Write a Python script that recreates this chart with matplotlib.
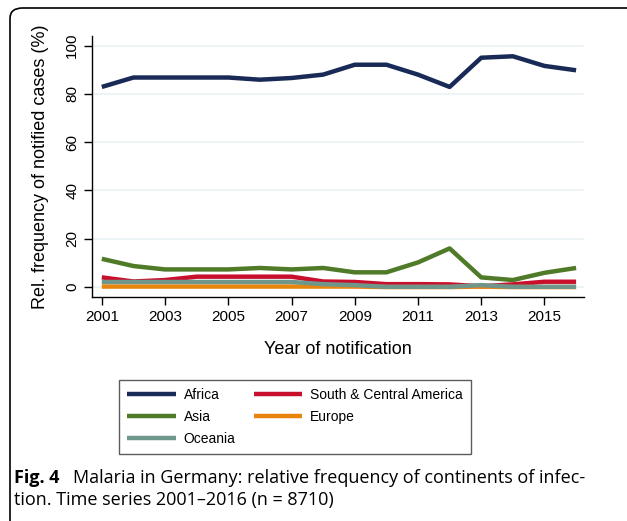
import matplotlib
matplotlib.use("Agg")
import matplotlib.pyplot as plt
from matplotlib.patches import FancyBboxPatch

years = list(range(2001, 2017))
africa = [82.9, 86.8, 86.8, 86.8, 86.8, 85.9, 86.6, 88.0, 92.1, 92.1, 88.0, 82.9, 95.0, 95.6, 91.6, 89.8]
asia = [11.7, 8.7, 7.3, 7.3, 7.3, 7.9, 7.3, 7.9, 6.1, 6.1, 10.2, 16.0, 4.0, 2.9, 5.9, 7.9]
south_central = [4.0, 2.3, 2.9, 4.3, 4.3, 4.3, 4.3, 2.3, 2.1, 1.2, 1.2, 1.1, 0.3, 1.1, 2.2, 2.2]
europe = [0.2, 0.2, 0.2, 0.2, 0.2, 0.2, 0.2, 0.2, 0.2, 0.0, 0.0, 0.0, 0.2, 0.0, 0.0, 0.0]
oceania = [2.1, 2.1, 2.1, 2.1, 2.1, 2.1, 2.1, 1.2, 0.8, 0.1, 0.1, 0.1, 0.8, 0.1, 0.1, 0.1]

yticks = [0, 20, 40, 60, 80, 100]
xticks = [2001, 2003, 2005, 2007, 2009, 2011, 2013, 2015]

W, H = 627, 521
fig = plt.figure(figsize=(W / 100, H / 100), dpi=100)

# rounded frame of the figure panel (runs off right and bottom edges)
frame = FancyBboxPatch((10 / W, -30 / H), 700 / W, (H - 8 + 30) / H,
                       boxstyle="round,pad=0,rounding_size=0.02",
                       transform=fig.transFigure, fill=False, lw=1.2, ec='black')
fig.patches.append(frame)

ax = fig.add_axes([91.7 / W, (H - 296.7) / H, (584 - 91.7) / W, (296.7 - 36) / H])

lw = 3.2
l_af, = ax.plot(years, africa, color='#1a2a57', lw=lw, solid_capstyle='butt', zorder=3)
l_sc, = ax.plot(years, south_central, color='#c8102e', lw=lw, solid_capstyle='butt', zorder=3)
l_as, = ax.plot(years, asia, color='#4f7a28', lw=lw, solid_capstyle='butt', zorder=3)
l_eu, = ax.plot(years, europe, color='#e8850c', lw=lw, solid_capstyle='butt', zorder=3)
l_oc, = ax.plot(years, oceania, color='#6f968b', lw=lw, solid_capstyle='butt', zorder=4)

ax.set_xlim(2000.68, 2016.25)
ax.set_ylim(-4, 104)
ax.set_yticks(yticks)
ax.set_xticks(xticks)
ax.grid(axis='y', color='#eaf2f3', lw=1.2, zorder=0)
for s in ['top', 'right']:
    ax.spines[s].set_visible(False)
for s in ['left', 'bottom']:
    ax.spines[s].set_linewidth(1.0)
ax.tick_params(direction='out', length=6, width=1.0, labelsize=11)
ax.tick_params(axis='y', pad=3)
for lab in ax.get_yticklabels():
    lab.set_rotation(90)
    lab.set_va('center')
for lab in ax.get_xticklabels() + ax.get_yticklabels():
    lab.set_family('Liberation Sans')

ax.set_ylabel('Rel. frequency of notified cases (%)', fontsize=13, family='Liberation Sans', labelpad=12)
ax.set_xlabel('Year of notification', fontsize=13, family='Liberation Sans', labelpad=12)

# column-major fill: Africa / Asia / Oceania, then South & Central America / Europe
leg = fig.legend([l_af, l_as, l_oc, l_sc, l_eu],
                 ['Africa', 'Asia', 'Oceania', 'South & Central America', 'Europe'],
                 ncol=2, loc='upper left', bbox_to_anchor=(119 / W, (H - 380) / H),
                 borderaxespad=0, prop={'family': 'Liberation Sans', 'size': 10},
                 frameon=True, fancybox=False, edgecolor='#333333',
                 handlelength=3.5, handletextpad=0.55, columnspacing=1.3,
                 labelspacing=0.55, borderpad=0.6)
leg.get_frame().set_linewidth(1.0)

fig.text(14 / W, (H - 478) / H, 'Fig. 4', fontsize=13, va='center', family='Open Sans', weight='bold')
fig.text(73 / W, (H - 478) / H, 'Malaria in Germany: relative frequency of continents of infec-',
         fontsize=13, va='center', family='Open Sans')
fig.text(14 / W, (H - 500) / H, 'tion. Time series 2001\u20132016 (n = 8710)',
         fontsize=13, va='center', family='Open Sans')

fig.savefig('out.png', dpi=100)
